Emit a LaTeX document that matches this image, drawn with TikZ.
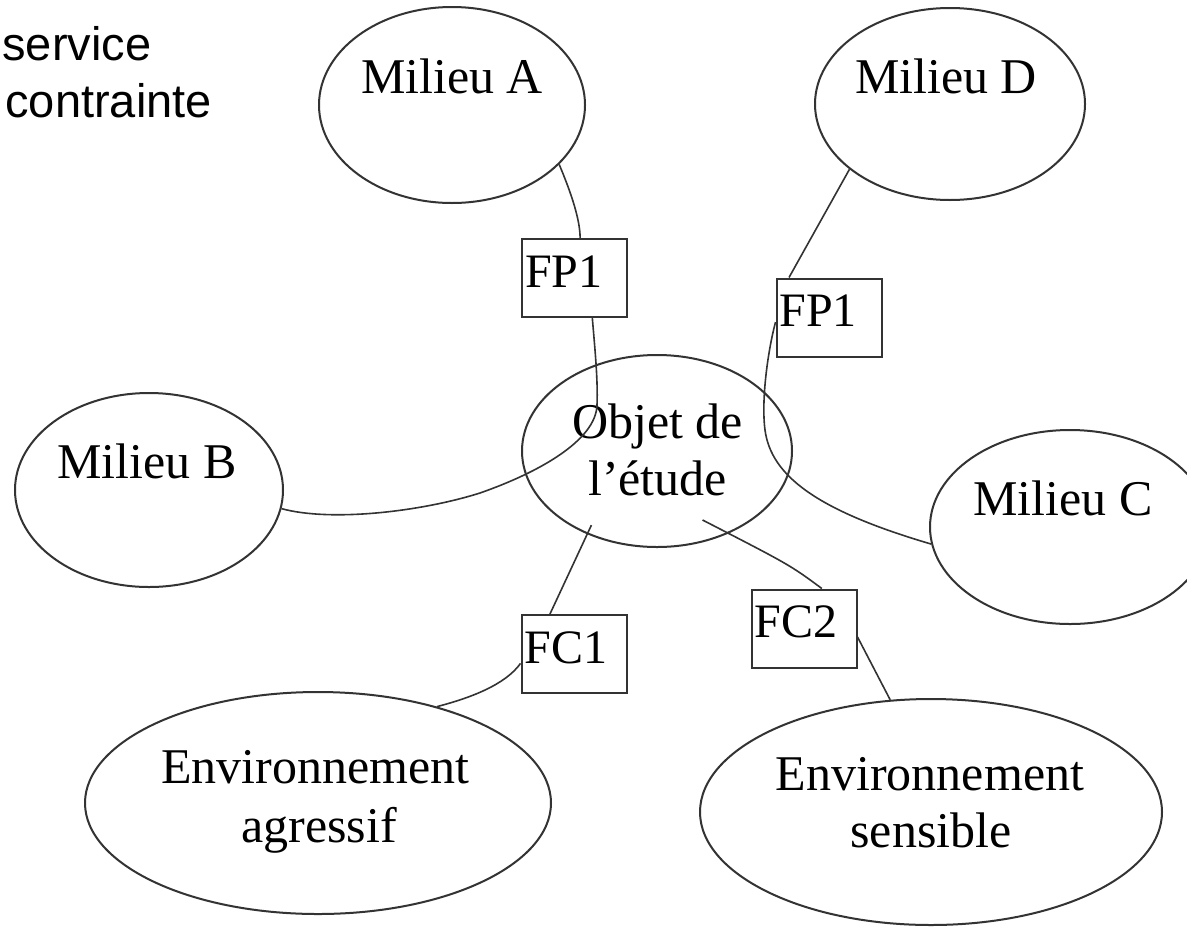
\documentclass[tikz,border=0pt]{standalone}
\usepackage{fontspec}
\setmainfont{Liberation Serif}
\newfontfamily\legendfont{Liberation Sans}
\usetikzlibrary{shapes.geometric}

\begin{document}
\begin{tikzpicture}[x=0.5pt,y=-0.5pt,
  oval/.style={ellipse, draw=black!80, line width=1pt, inner sep=0pt},
  ovaltext/.style={anchor=base, inner sep=0pt, font=\fontsize{25pt}{30pt}\selectfont},
  fbox/.style={rectangle, draw=black!80, line width=1pt, inner ysep=0pt, inner xsep=1.5pt,
    text width=49.5pt, align=left, text height=24pt, text depth=15pt,
    font=\fontsize{24pt}{28pt}\selectfont},
  link/.style={draw=black!80, line width=0.8pt},
  legend/.style={anchor=base west, inner sep=0pt, font=\legendfont\fontsize{23.5pt}{28pt}\selectfont},
]
\useasboundingbox (0,0) rectangle (1187,926);
\fill[white] (0,0) rectangle (1187,926);

% legend fragment
\node[legend] (leg1) at (2,60) {service};
\node[legend] (leg2) at (5,117) {contrainte};

% ellipses
\node[oval, minimum width=133pt, minimum height=98pt] (A) at (452,105) {};
\node[oval, minimum width=135pt, minimum height=96pt] (D) at (950,104) {};
\node[oval, minimum width=134pt, minimum height=97pt] (B) at (149,490) {};
\node[oval, minimum width=140pt, minimum height=97pt] (C) at (1070,527) {};
\node[oval, minimum width=135pt, minimum height=96pt] (O) at (657,451) {};
\node[oval, minimum width=233pt, minimum height=111pt] (E1) at (318,803) {};
\node[oval, minimum width=231pt, minimum height=113pt] (E2) at (931,812) {};

% ellipse labels
\node[ovaltext] (A-t) at (452,93) {Milieu A};
\node[ovaltext] (D-t) at (946,93) {Milieu D};
\node[ovaltext] (B-t) at (147,478) {Milieu B};
\node[ovaltext] (C-t) at (1063,515) {Milieu C};
\node[ovaltext] (O-t1) at (657.5,438) {Objet de};
\node[ovaltext] (O-t2) at (657.5,495) {l’étude};
\node[ovaltext] (E1-t1) at (315.5,783) {Environnement};
\node[ovaltext] (E1-t2) at (319,842) {agressif};
\node[ovaltext] (E2-t1) at (930,790) {Environnement};
\node[ovaltext] (E2-t2) at (931,847) {sensible};

% function boxes
\node[fbox] (FP1L) at (574.5,278) {FP1};
\node[fbox] (FP1R) at (829,317.5) {FP1};
\node[fbox] (FC1) at (574,654) {FC1};
\node[fbox] (FC2) at (804,628.5) {FC2};

% connectors
\draw[link] (A.-29) .. controls (572,195) and (580,220) .. (FP1L.82);
\draw[link] (FP1L.-66) .. controls (595,350) and (598,380) .. (597,405)
  .. controls (596,440) and (540,472) .. (480,493)
  .. controls (420,512) and (330,522) .. (B.-8);
\draw[link] (D.-147) -- (FP1R.135);
\draw[link] (FP1R.185) .. controls (768,350) and (761,400) .. (765,430)
  .. controls (771,475) and (815,510) .. (C.187);
\draw[link, shorten <=-5pt] (O.-130) -- (FC1.121);
\draw[link] (FC1.190) .. controls (505,685) and (470,698) .. (E1.39);
\draw[link, shorten <=-14.7pt] (O.-49) .. controls (790,565) .. (FC2.66);
\draw[link] (FC2.-9) -- (E2.110);
\end{tikzpicture}
\end{document}
